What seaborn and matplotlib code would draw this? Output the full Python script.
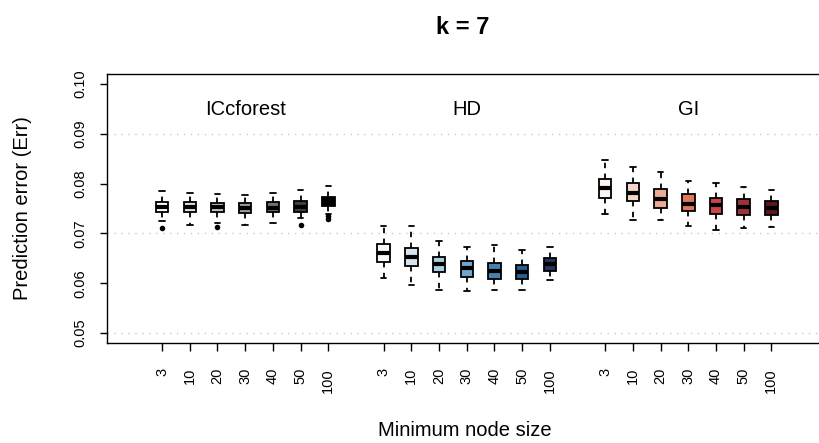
import numpy as np
import pandas as pd
import matplotlib
matplotlib.use('Agg')
import matplotlib.pyplot as plt
import seaborn as sns

methods = ['ICcforest', 'HD', 'GI']
node_sizes = ['3', '10', '20', '30', '40', '50', '100']

# box summaries: lower whisker, Q1, median, Q3, upper whisker
iccf_lo  = [0.0724, 0.0717, 0.0721, 0.0717, 0.0721, 0.0730, 0.0739]
iccf_q1  = [0.0742, 0.0742, 0.0743, 0.0740, 0.0742, 0.0743, 0.0756]
iccf_med = [0.0754, 0.0754, 0.0753, 0.0752, 0.0752, 0.0754, 0.0764]
iccf_q3  = [0.0764, 0.0763, 0.0762, 0.0762, 0.0764, 0.0765, 0.0774]
iccf_hi  = [0.0786, 0.0782, 0.0779, 0.0777, 0.0782, 0.0787, 0.0796]

hd_lo  = [0.0611, 0.0597, 0.0587, 0.0584, 0.0586, 0.0586, 0.0607]
hd_q1  = [0.0643, 0.0634, 0.0622, 0.0613, 0.0609, 0.0609, 0.0625]
hd_med = [0.0660, 0.0653, 0.0638, 0.0630, 0.0624, 0.0623, 0.0638]
hd_q3  = [0.0678, 0.0671, 0.0653, 0.0644, 0.0640, 0.0636, 0.0650]
hd_hi  = [0.0715, 0.0715, 0.0685, 0.0673, 0.0677, 0.0666, 0.0673]

gi_lo  = [0.0739, 0.0727, 0.0727, 0.0715, 0.0707, 0.0711, 0.0712]
gi_q1  = [0.0772, 0.0765, 0.0750, 0.0744, 0.0738, 0.0736, 0.0737]
gi_med = [0.0791, 0.0782, 0.0770, 0.0760, 0.0758, 0.0754, 0.0752]
gi_q3  = [0.0809, 0.0802, 0.0790, 0.0780, 0.0772, 0.0770, 0.0765]
gi_hi  = [0.0848, 0.0833, 0.0823, 0.0806, 0.0801, 0.0793, 0.0787]

# outlying points (method index, node size index, value)
out_method = [0, 0, 0, 0, 0]
out_node = [0, 2, 5, 6, 6]
out_value = [0.0711, 0.0713, 0.0717, 0.0734, 0.0729]

iccf_colors = ['#FFFFFF', '#E2E2E2', '#C2C2C2', '#9C9C9C', '#707070', '#404040', '#000000']
hd_colors = ['#F7FBFF', '#D2E4F4', '#A6CFE6', '#64A9D6', '#3385C2', '#175FA9', '#1B3366']
gi_colors = ['#FFF5F0', '#FDD3C0', '#FBA385', '#F56B4B', '#E0302A', '#B0202A', '#670B16']

y_ticks = [0.05, 0.06, 0.07, 0.08, 0.09, 0.10]
grid_levels = [0.05, 0.07, 0.09]
label_y = 0.0948

summaries = [
    (iccf_lo, iccf_q1, iccf_med, iccf_q3, iccf_hi, iccf_colors),
    (hd_lo, hd_q1, hd_med, hd_q3, hd_hi, hd_colors),
    (gi_lo, gi_q1, gi_med, gi_q3, gi_hi, gi_colors),
]

# 7 boxes per method, one empty slot between methods
def box_pos(g, i):
    return g * 8 + i + 1

rows = []
palette = {}
for g, (lo, q1, med, q3, hi, cols) in enumerate(summaries):
    for i in range(len(node_sizes)):
        p = box_pos(g, i)
        palette[p] = cols[i]
        for v in (lo[i], q1[i], med[i], q3[i], hi[i]):
            rows.append({'pos': p, 'err': v})
df = pd.DataFrame(rows)

sns.set_theme(style='white')
plt.rcParams['font.family'] = ['Liberation Sans', 'DejaVu Sans']
plt.rcParams['text.color'] = 'black'
plt.rcParams['axes.labelcolor'] = 'black'
plt.rcParams['xtick.color'] = 'black'
plt.rcParams['ytick.color'] = 'black'

fig = plt.figure(figsize=(8.19, 4.43), dpi=100)
ax = fig.add_axes([107 / 819, 1 - 343 / 443, 1 - 107 / 819, (343 - 74) / 443])

for v in grid_levels:
    ax.axhline(v, color='#c8c8c8', linestyle=(0, (1, 4)), linewidth=1, zorder=0)

sns.boxplot(data=df, x='pos', y='err', hue='pos', palette=palette, native_scale=True,
            whis=(0, 100), width=0.45, linecolor='black', linewidth=1.3,
            showfliers=False, legend=False, capwidths=0.2,
            medianprops=dict(color='black', linewidth=3),
            whiskerprops=dict(linestyle=(0, (3, 3))),
            ax=ax)

sns.scatterplot(x=[box_pos(g, i) for g, i in zip(out_method, out_node)], y=out_value,
                color='black', s=16, linewidth=0, ax=ax, zorder=4)

for g, m in enumerate(methods):
    ax.text(box_pos(g, 3), label_y, m, ha='center', va='center', fontsize=14.5)

positions = [box_pos(g, i) for g in range(len(methods)) for i in range(len(node_sizes))]
ax.set_xticks(positions)
ax.set_xticklabels(node_sizes * len(methods), rotation=90, fontsize=10.5)
ax.set_yticks(y_ticks)
ax.set_yticklabels([f'{v:.2f}' for v in y_ticks], rotation=90, va='center', fontsize=10.5)
ax.tick_params(axis='x', length=6, width=1, pad=12, bottom=True)
ax.tick_params(axis='y', length=5, width=1, pad=9, left=True)

ax.set_xlim(-0.99, 24.72)
ax.set_ylim(0.048, 0.102)

for side in ['left', 'bottom', 'top']:
    ax.spines[side].set_color('black')
    ax.spines[side].set_linewidth(1)
ax.spines['right'].set_visible(False)

ax.set_xlabel('Minimum node size', fontsize=14.5)
ax.set_ylabel('Prediction error (Err)', fontsize=14.5)
ax.xaxis.set_label_coords((465 - 107) / (819 - 107), -(430 - 343) / (343 - 74))
ax.xaxis.label.set_va('center')
ax.yaxis.set_label_coords(-(107 - 23) / (819 - 107), 0.5)
ax.yaxis.label.set_va('center')
ax.set_title('k = 7', fontsize=17, fontweight='bold', pad=29)

fig.savefig('out.png', dpi=100)
